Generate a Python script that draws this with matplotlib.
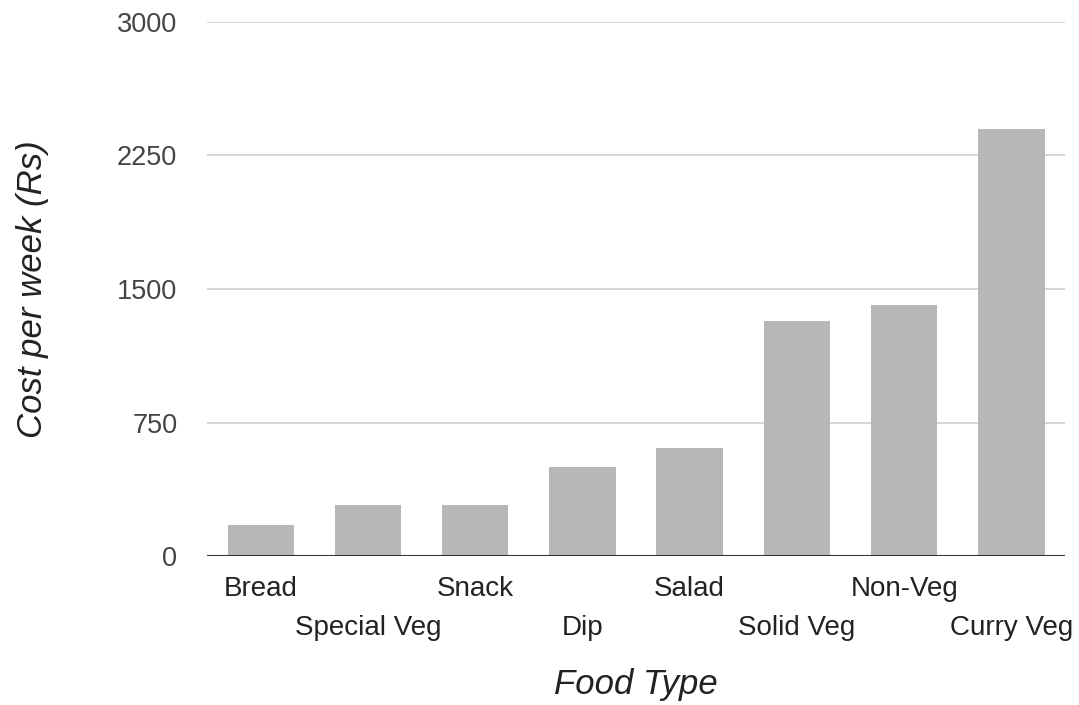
import numpy as np
import matplotlib.pyplot as plt

# Weekly cost by food type
food_types = ["Bread", "Special Veg", "Snack", "Dip", "Salad",
              "Solid Veg", "Non-Veg", "Curry Veg"]
cost_per_week = [175, 290, 290, 500, 610, 1320, 1410, 2400]
y_ticks = [0, 750, 1500, 2250, 3000]

plt.rcParams['font.family'] = ['Liberation Sans', 'DejaVu Sans']

fig = plt.figure(figsize=(10.79, 7.05), dpi=100)
ax = fig.add_axes([0.192, 0.211, 0.795, 0.758])

x = np.arange(len(food_types))
ax.bar(x, cost_per_week, width=0.62, color='#b7b7b7', zorder=2)

ax.set_xlim(-0.5, len(food_types) - 0.5)
ax.set_ylim(0, 3000)
ax.set_yticks(y_ticks)
ax.set_yticklabels([str(t) for t in y_ticks], fontsize=19.5, color='#444444')
ax.grid(axis='y', color='#d0d0d0', linewidth=1.2, zorder=0)
ax.axhline(0, color='#333333', linewidth=1.5, zorder=3)

# staggered category labels
labels = [("\n" + name) if i % 2 else name for i, name in enumerate(food_types)]
ax.set_xticks(x)
ax.set_xticklabels(labels, fontsize=20, color='#222222', linespacing=1.64)

ax.tick_params(axis='both', length=0)
ax.tick_params(axis='x', pad=14.5)
ax.tick_params(axis='y', pad=21.5)
for side in ['top', 'right', 'left', 'bottom']:
    ax.spines[side].set_visible(False)

ax.set_xlabel("Food Type", fontsize=25, style='italic', color='#222222', labelpad=19)
ax.set_ylabel("Cost per week (Rs)", fontsize=25, style='italic', color='#222222', labelpad=49)

fig.savefig("out.png", dpi=100)
